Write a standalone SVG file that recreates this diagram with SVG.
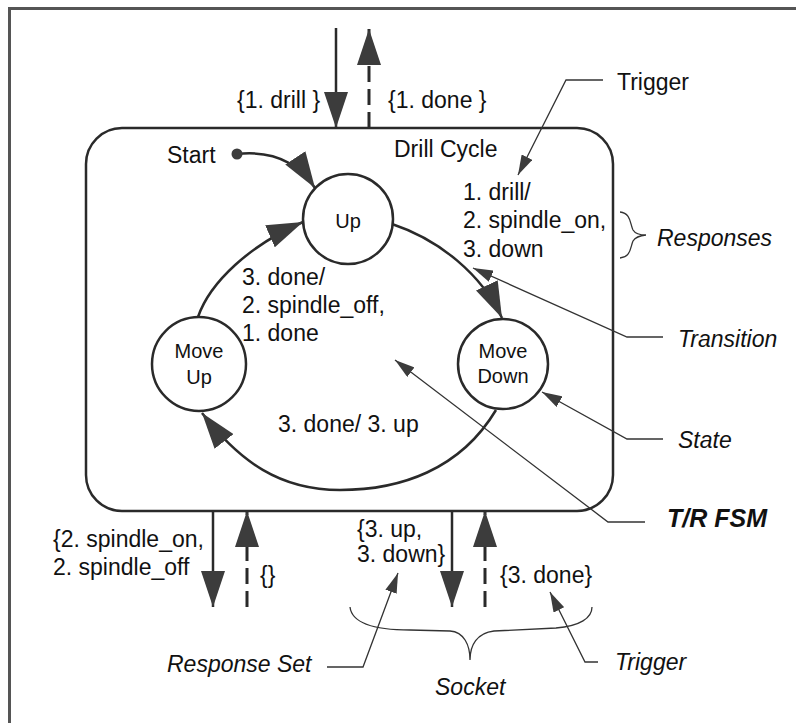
<svg xmlns="http://www.w3.org/2000/svg" width="796" height="723" viewBox="0 0 796 723">
<style>
  text { font-family: "Liberation Sans", Arial, sans-serif; font-size: 23px; fill: #111; }
  .it { font-style: italic; }
  .st { font-size: 20px; text-anchor: middle; }
  .bi { font-style: italic; font-weight: bold; font-size: 25px; }
  .ln { fill: none; stroke: #2a2a2a; stroke-width: 2.5; }
  .thin { fill: none; stroke: #333; stroke-width: 1.3; }
  .dash { fill: none; stroke: #2a2a2a; stroke-width: 3; stroke-dasharray: 16 7; }
  .node { fill: #fff; stroke: #2a2a2a; stroke-width: 2.5; }
</style>
<defs>
  <marker id="big" viewBox="0 0 36 24" refX="36" refY="12" markerWidth="36" markerHeight="24" markerUnits="userSpaceOnUse" orient="auto">
    <path d="M0,0 L36,12 L0,24 z" fill="#3c3c3c"/>
  </marker>
  <marker id="small" viewBox="0 0 20 12" refX="20" refY="6" markerWidth="20" markerHeight="12" markerUnits="userSpaceOnUse" orient="auto">
    <path d="M0,0 L20,6 L0,12 z" fill="#3c3c3c"/>
  </marker>
</defs>
<rect width="796" height="723" fill="#fff"/>
<g id="frame">
  <path d="M9.5,723 L9.5,8.5 L796,8.5" fill="none" stroke="#555" stroke-width="3"/>
</g>
<g id="drill-cycle">
  <rect x="86" y="128" width="527" height="383" rx="36" fill="none" stroke="#2a2a2a" stroke-width="2.5"/>
  <text x="394" y="157">Drill Cycle</text>
</g>
<g id="connectors">
  <line class="ln" x1="336" y1="28" x2="336" y2="128" marker-end="url(#big)"/>
  <line class="dash" x1="369" y1="128" x2="369" y2="29" marker-end="url(#big)"/>
  <line class="ln" x1="213" y1="511" x2="213" y2="607" marker-end="url(#big)"/>
  <line class="dash" x1="247" y1="607" x2="247" y2="511" marker-end="url(#big)"/>
  <line class="ln" x1="452" y1="511" x2="452" y2="607" marker-end="url(#big)"/>
  <line class="dash" x1="485" y1="607" x2="485" y2="511" marker-end="url(#big)"/>
  <path class="ln" d="M237,154 C275,150 300,165 315,188" marker-end="url(#big)"/>
  <path class="ln" d="M198,317 C210,282 250,245 303,222" marker-end="url(#big)"/>
  <path class="ln" d="M392,224 C440,240 482,275 502,318" marker-end="url(#big)"/>
  <path class="ln" d="M496,410 C460,470 400,490 340,490 C280,490 240,462 202,413" marker-end="url(#big)"/>
  <path class="thin" d="M603,80 L566,80 L518,175" marker-end="url(#small)"/>
  <path class="thin" d="M663,337 L627,337 L473,268" marker-end="url(#small)"/>
  <path class="thin" d="M663,439 L627,439 L542,392" marker-end="url(#small)"/>
  <path class="thin" d="M645,522 L608,522 L395,360" marker-end="url(#small)"/>
  <path class="thin" d="M327,667 L363,667 L398,573" marker-end="url(#small)"/>
  <path class="thin" d="M598,662 L585,662 L550,592" marker-end="url(#small)"/>
  <path class="thin" d="M620,212 C631,213 630,224 633,230 Q636,235 646,235 Q636,236 633,241 C630,248 631,257 620,258"/>
  <path class="thin" d="M350,607 C352,624 378,630 410,630 L450,631 C464,632 470,645 470,660 C470,645 477,633 494,631 L556,628 C580,626 592,618 592,607"/>
  <circle cx="237" cy="154" r="5.5" fill="#3c3c3c"/>
</g>
<g id="state-up">
  <circle class="node" cx="348" cy="219" r="45"/>
  <text class="st" x="348" y="228">Up</text>
</g>
<g id="state-move-up">
  <circle class="node" cx="199" cy="364" r="47"/>
  <text class="st" x="199" y="358">Move</text>
  <text class="st" x="199" y="384">Up</text>
</g>
<g id="state-move-down">
  <circle class="node" cx="503" cy="364" r="45"/>
  <text class="st" x="503" y="358">Move</text>
  <text class="st" x="503" y="383">Down</text>
</g>
<g id="labels">
  <text x="237" y="108">{1. drill }</text>
  <text x="388" y="108">{1. done }</text>
  <text x="167" y="163">Start</text>
  <text x="617" y="90">Trigger</text>
  <text x="463" y="200">1. drill/</text>
  <text x="463" y="228">2. spindle_on,</text>
  <text x="463" y="257">3. down</text>
  <text class="it" x="657" y="246">Responses</text>
  <text x="242" y="285">3. done/</text>
  <text x="242" y="313">2. spindle_off,</text>
  <text x="242" y="341">1. done</text>
  <text x="278" y="432">3. done/ 3. up</text>
  <text class="it" x="678" y="347">Transition</text>
  <text class="it" x="678" y="448">State</text>
  <text class="bi" x="667" y="527">T/R FSM</text>
  <text x="53" y="547">{2. spindle_on,</text>
  <text x="53" y="575">2. spindle_off</text>
  <text x="260" y="583">{}</text>
  <text x="357" y="537">{3. up,</text>
  <text x="357" y="562">3. down}</text>
  <text x="500" y="583">{3. done}</text>
  <text class="it" x="167" y="672">Response Set</text>
  <text class="it" x="435" y="695">Socket</text>
  <text class="it" x="615" y="670">Trigger</text>
</g>
</svg>
